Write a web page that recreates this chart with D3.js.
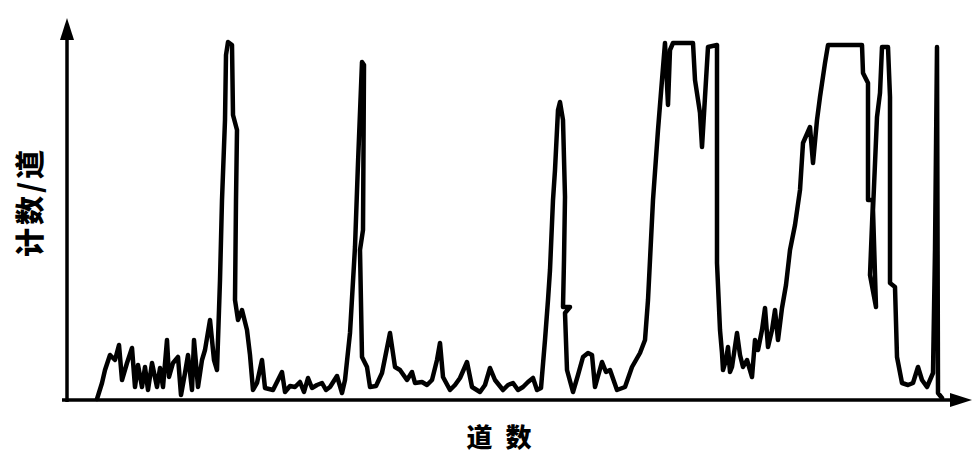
<!DOCTYPE html>
<html>
<head>
<meta charset="utf-8">
<script src="https://cdn.jsdelivr.net/npm/d3@7"></script>
<style>
  body { margin: 0; background: #fff; }
  .label { font-family: "Noto Sans CJK SC", sans-serif; font-weight: 900; fill: #000; }
</style>
</head>
<body>
<div class="spectrum"></div>
<script>
// channel numbers and counts
const channel = [31,36,39,44,49,53,56,61,66,69,72,76,79,82,86,91,94,97,101,103,107,112,115,119,122,126,128,132,136,139,
  144,148,151,154,156,159,160,162,166,167,171,170,169,172,176,181,184,187,191,196,199,207,212,216,219,224,229,234,238,242,246,
  251,256,260,264,271,276,279,284,289,292,296,298,297,294,296,301,304,310,316,324,329,334,341,346,349,356,361,366,
  371,374,377,384,389,394,401,406,414,419,424,429,437,442,447,452,457,462,467,471,475,479,482,484,487,489,492,494,
  497,499,498,497,504,499,501,507,512,517,522,526,529,536,540,544,551,559,566,574,579,582,587,592,596,599,602,604,
  607,627,629,634,636,639,642,651,651,654,656,657,660,662,664,666,671,674,677,681,686,689,692,696,699,702,706,709,712,716,720,724,729,
  734,737,744,747,751,754,759,762,796,797,802,802,807,804,810,807,811,814,816,822,824,824,829,831,836,842,847,852,
  856,861,867,869,871,872,876];
const counts = [1,17,30,45,40,55,20,37,52,13,35,13,33,10,37,13,32,13,60,23,37,43,5,27,45,10,60,13,40,50,
  80,40,30,120,200,280,345,358,355,285,270,200,100,80,90,70,45,10,17,40,12,10,20,28,8,14,13,18,8,22,12,
  15,17,10,13,24,7,20,67,153,237,338,335,170,150,43,33,13,14,27,67,33,30,20,28,17,18,15,20,
  40,57,23,10,15,22,38,13,8,15,32,20,10,15,17,10,13,18,22,10,12,60,100,130,200,230,290,298,
  280,203,140,93,93,87,30,8,25,43,47,45,13,38,28,30,10,13,33,47,60,100,200,270,320,357,295,350,
  357,357,320,287,253,303,353,355,137,70,47,30,40,53,28,33,67,45,33,40,23,60,50,70,92,53,70,90,60,92,115,150,175,
  210,257,273,237,280,303,337,355,355,327,317,200,200,125,93,190,283,307,353,353,303,117,113,43,17,15,17,33,
  20,13,27,150,353,7,2];

const data = channel.map((c, i) => ({ch: c, n: counts[i]}));

const W = 976, H = 455;
const svg = d3.select('.spectrum')
    .append('svg')
    .attr('width', W)
    .attr('height', H);

const x = d3.scaleLinear().domain([0, 886]).range([66, 952]);
const y = d3.scaleLinear().domain([0, 365]).range([400, 35]);

// arrow heads for both axes
svg.append('defs').append('marker')
    .attr('id', 'arrow')
    .attr('markerUnits', 'userSpaceOnUse')
    .attr('viewBox', '0 0 22 14')
    .attr('refX', 2)
    .attr('refY', 7)
    .attr('markerWidth', 22)
    .attr('markerHeight', 14)
    .attr('orient', 'auto')
    .append('path')
    .attr('d', 'M0,0 L22,7 L0,14 Z')
    .attr('fill', '#000');

// x axis
const gx = svg.append('g')
    .attr('transform', 'translate(0,400)')
    .call(d3.axisBottom(x).ticks(0).tickSize(0).tickSizeOuter(0));
gx.select('.domain')
    .attr('d', 'M62,0H952')
    .attr('stroke-width', 3.5)
    .attr('marker-end', 'url(#arrow)');

// y axis
const gy = svg.append('g')
    .attr('transform', 'translate(67,0)')
    .call(d3.axisLeft(y).ticks(0).tickSize(0).tickSizeOuter(0));
gy.select('.domain')
    .attr('d', 'M0,402V38')
    .attr('stroke-width', 3.5)
    .attr('marker-end', 'url(#arrow)');

// spectrum trace
svg.append('path')
    .datum(data)
    .attr('fill', 'none')
    .attr('stroke', '#000')
    .attr('stroke-width', 4.5)
    .attr('stroke-linejoin', 'round')
    .attr('stroke-linecap', 'round')
    .attr('d', d3.line()
        .x(d => x(d.ch))
        .y(d => y(d.n)));

// axis titles
svg.append('text')
    .attr('class', 'label')
    .attr('transform', 'translate(28,202) rotate(-90)')
    .attr('text-anchor', 'middle')
    .attr('dominant-baseline', 'central')
    .attr('font-size', 29)
    .attr('letter-spacing', 3)
    .text('计数/道');

// x title: two glyphs placed apart instead of letter-spacing
svg.append('text')
    .attr('class', 'label')
    .attr('x', 499)
    .attr('y', 435)
    .attr('text-anchor', 'middle')
    .attr('dominant-baseline', 'central')
    .attr('font-size', 26)
    .attr('word-spacing', 0)
    .text('道\u2002数');
</script>
</body>
</html>
